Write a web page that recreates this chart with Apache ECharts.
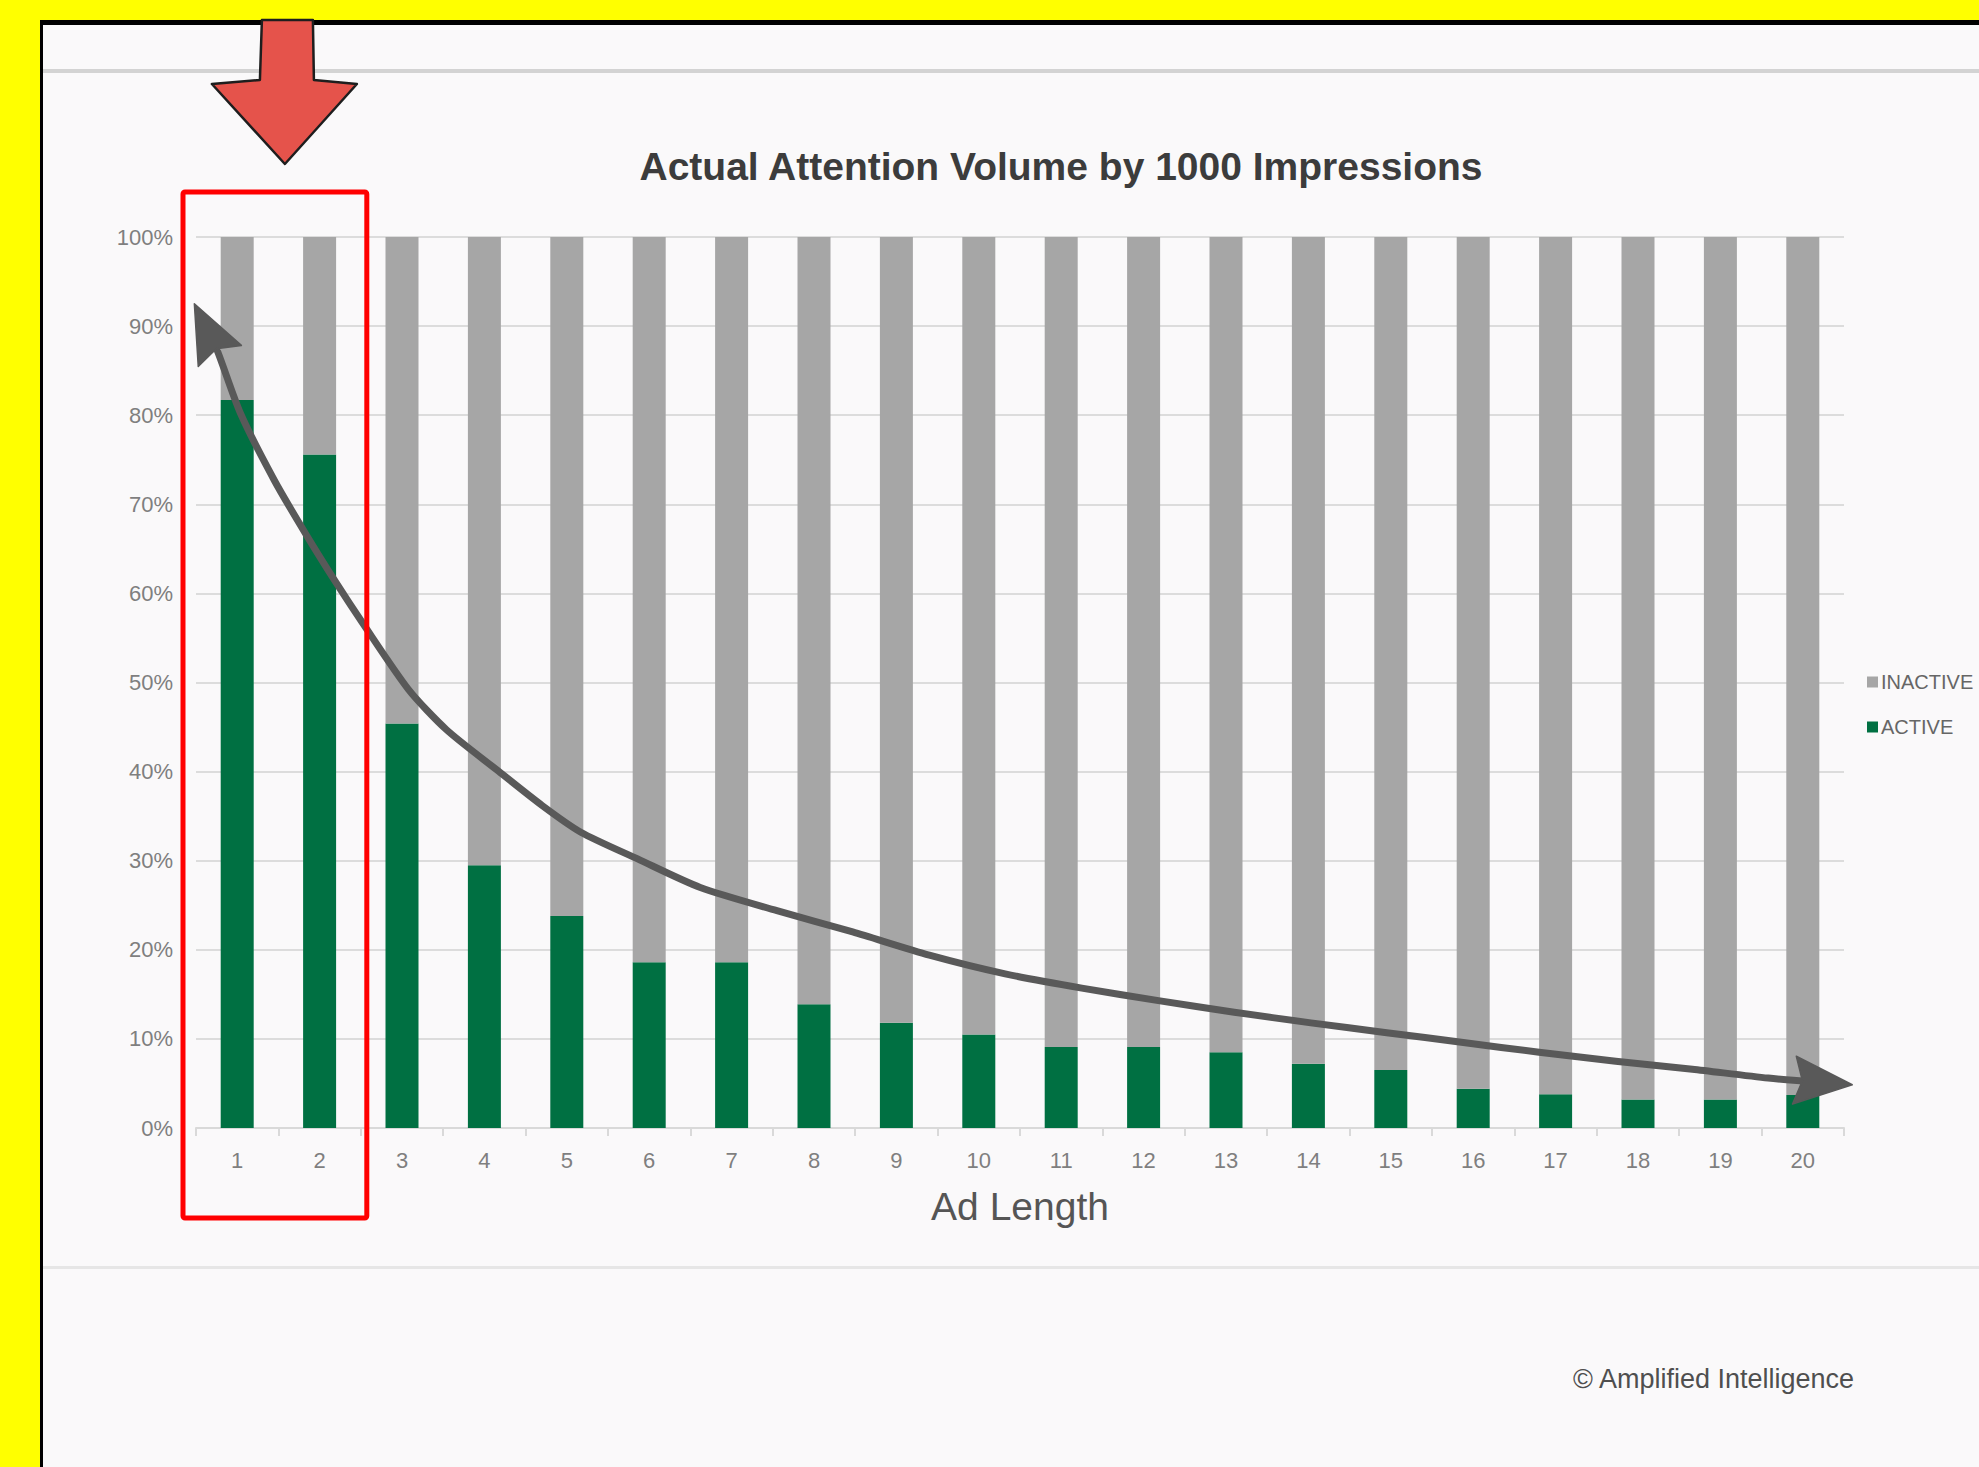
<!DOCTYPE html>
<html>
<head>
<meta charset="utf-8">
<title>Actual Attention Volume by 1000 Impressions</title>
<script src="https://cdn.jsdelivr.net/npm/echarts@6/dist/echarts.min.js"></script>
<style>
  html, body { margin: 0; padding: 0; width: 1979px; height: 1467px; overflow: hidden; background: #ffff00; }
  #frame { position: absolute; left: 40px; top: 20px; right: 0; bottom: 0; background: #faf9fa; border-left: 3px solid #000; border-top: 5px solid #000; }
  .rule { position: absolute; left: 43px; right: 0; }
  #ruleTop { top: 69px; height: 4px; background: #d3d3d3; }
  #ruleBottom { top: 1266px; height: 3px; background: #e6e6e6; }
  #chart { position: absolute; left: 0; top: 0; width: 1979px; height: 1467px; }
</style>
</head>
<body>
<div id="frame"></div>
<div class="rule" id="ruleTop"></div>
<div class="rule" id="ruleBottom"></div>
<div id="chart"></div>
<script>
// ad length (seconds) on the x axis
var adLength = ['1', '2', '3', '4', '5', '6', '7', '8', '9', '10',
  '11', '12', '13', '14', '15', '16', '17', '18', '19', '20'];
// share of impressions, %
var active = [81.7, 75.6, 45.4, 29.5, 23.8, 18.6, 18.6, 13.9, 11.8, 10.5,
  9.1, 9.1, 8.5, 7.2, 6.5, 4.4, 3.8, 3.2, 3.2, 3.7];
var inactive = [18.3, 24.4, 54.6, 70.5, 76.2, 81.4, 81.4, 86.1, 88.2, 89.5,
  90.9, 90.9, 91.5, 92.8, 93.5, 95.6, 96.2, 96.8, 96.8, 96.3];
// y axis ticks (%)
var yMin = 0, yMax = 100, yStep = 10;

// hand drawn trend arrow, in bar-index / % units
var trendX = [-0.52, -0.24, 0.04, 0.45, 0.83, 1.2, 1.52, 2.08, 2.54, 3.15, 3.7, 4.17, 4.86,
  5.62, 6.55, 7.47, 8.4, 9.32, 10.25, 11.18, 12.1, 13.03, 13.95, 14.88, 15.8, 16.73, 17.66, 18.58, 19.6];
var trendY = [92.5, 87.2, 80.2, 72.7, 66.7, 61.2, 56.7, 49.2, 44.7, 40.2, 36.2, 33.2, 30.2,
  27.0, 24.4, 22.0, 19.4, 17.3, 15.7, 14.3, 13.0, 11.8, 10.7, 9.6, 8.5, 7.5, 6.6, 5.6, 4.85];

var font = "'Liberation Sans', Arial, sans-serif";
var myChart = echarts.init(document.getElementById('chart'), null, { renderer: 'svg' });

function arrowHead(tip, from, color) {
  var dx = tip[0] - from[0], dy = tip[1] - from[1];
  var len = Math.sqrt(dx * dx + dy * dy);
  var ux = dx / len, uy = dy / len, nx = -uy, ny = ux;
  var L = 58, W = 24, N = 50;
  return {
    type: 'polygon',
    shape: {
      points: [
        tip,
        [tip[0] - ux * L + nx * W, tip[1] - uy * L + ny * W],
        [tip[0] - ux * N, tip[1] - uy * N],
        [tip[0] - ux * L - nx * W, tip[1] - uy * L - ny * W]
      ]
    },
    style: { fill: color, stroke: color, lineWidth: 1.5, lineJoin: 'round' }
  };
}

function backPoint(pts, start, step) {
  var tip = pts[start];
  for (var i = start + step; i >= 0 && i < pts.length; i += step) {
    var d = Math.hypot(pts[i][0] - tip[0], pts[i][1] - tip[1]);
    if (d >= 40) return pts[i];
  }
  return pts[start + step];
}

function renderTrend(params, api) {
  var pts = trendX.map(function (x, i) { return api.coord([x, trendY[i]]); });
  var n = pts.length;
  var fromA = backPoint(pts, 0, 1);
  var fromB = backPoint(pts, n - 1, -1);
  var line = pts.slice();
  // pull the line ends back a little so the arrow tips stay sharp
  var trim = function (tip, from) {
    var dx = tip[0] - from[0], dy = tip[1] - from[1];
    var len = Math.sqrt(dx * dx + dy * dy);
    return [tip[0] - dx / len * 30, tip[1] - dy / len * 30];
  };
  line[0] = trim(pts[0], fromA);
  line[n - 1] = trim(pts[n - 1], fromB);
  return {
    type: 'group',
    children: [
      {
        type: 'polyline',
        shape: { points: line, smooth: 0.25 },
        style: { stroke: '#595959', lineWidth: 7, fill: null, lineCap: 'butt', lineJoin: 'round' }
      },
      arrowHead(pts[0], fromA, '#595959'),
      arrowHead(pts[n - 1], fromB, '#595959')
    ]
  };
}

var option = {
  backgroundColor: 'transparent',
  animation: false,
  title: [
    {
      text: 'Actual Attention Volume by 1000 Impressions',
      left: 1056,
      top: 142,
      textAlign: 'center',
      textStyle: { fontFamily: font, fontSize: 39, fontWeight: 'bold', color: '#3c3c3c' }
    },
    {
      text: '© Amplified Intelligence',
      left: 1568,
      top: 1360,
      textStyle: { fontFamily: font, fontSize: 27, fontWeight: 'normal', color: '#4f4f4f' }
    }
  ],
  legend: {
    data: ['INACTIVE', 'ACTIVE'],
    orient: 'vertical',
    left: 1862,
    top: 667,
    itemWidth: 11,
    itemHeight: 11,
    itemGap: 25,
    icon: 'rect',
    textStyle: { fontFamily: font, fontSize: 20, color: '#666666', padding: [0, 0, 0, -2] }
  },
  grid: {
    left: 196,
    right: 135,
    top: 237,
    bottom: 339,
    containLabel: false,
    outerBoundsMode: 'none'
  },
  xAxis: [
    {
      type: 'category',
      data: adLength,
      name: 'Ad Length',
      nameLocation: 'middle',
      nameGap: 59,
      nameTextStyle: { fontFamily: font, fontSize: 39, color: '#555555' },
      axisLine: { lineStyle: { color: '#d9d9d9', width: 2 } },
      axisTick: { show: true, length: 8, lineStyle: { color: '#d9d9d9', width: 2 } },
      axisLabel: { fontFamily: font, fontSize: 22, color: '#7f7f7f', margin: 21 }
    },
    {
      type: 'value',
      min: -0.5,
      max: 19.5,
      show: false
    }
  ],
  yAxis: {
    type: 'value',
    min: yMin,
    max: yMax,
    interval: yStep,
    axisLine: { show: false },
    axisTick: { show: false },
    splitLine: { lineStyle: { color: '#dcdcdc', width: 2 } },
    axisLabel: { formatter: '{value}%', fontFamily: font, fontSize: 22, color: '#7f7f7f', margin: 23 }
  },
  series: [
    {
      name: 'ACTIVE',
      type: 'bar',
      stack: 'share',
      barWidth: 33,
      itemStyle: { color: '#007042' },
      data: active
    },
    {
      name: 'INACTIVE',
      type: 'bar',
      stack: 'share',
      barWidth: 33,
      itemStyle: { color: '#a6a6a6' },
      data: inactive
    },
    {
      name: 'trend',
      type: 'custom',
      xAxisIndex: 1,
      yAxisIndex: 0,
      silent: true,
      clip: false,
      z: 10,
      renderItem: renderTrend,
      data: [[0, 0]]
    }
  ]
};

myChart.setOption(option);

// red call-out box round the first two bars, and the big arrow above it
var boxL = myChart.convertToPixel({ xAxisIndex: 1 }, -0.5) - 13;
var boxR = myChart.convertToPixel({ xAxisIndex: 1 }, 1.5) + 6;
var yTop = myChart.convertToPixel({ yAxisIndex: 0 }, yMax);
var yBase = myChart.convertToPixel({ yAxisIndex: 0 }, yMin);
var boxT = yTop - 45, boxB = yBase + 90;
var ax = (boxL + boxR) / 2 + 10;

myChart.setOption({
  graphic: [
    {
      type: 'rect',
      shape: { x: boxL, y: boxT, width: boxR - boxL, height: boxB - boxT, r: 2 },
      style: { fill: 'none', stroke: '#ff0000', lineWidth: 5 },
      z: 20
    },
    {
      type: 'polygon',
      shape: {
        points: [
          [ax - 23, 20], [ax + 28, 20], [ax + 29, boxT - 112], [ax + 72, boxT - 108],
          [ax, boxT - 28], [ax - 73, boxT - 108], [ax - 25, boxT - 112]
        ]
      },
      style: { fill: '#e5534b', stroke: '#1e1e1e', lineWidth: 2.5, lineJoin: 'round' },
      z: 20
    }
  ]
});
</script>
</body>
</html>
